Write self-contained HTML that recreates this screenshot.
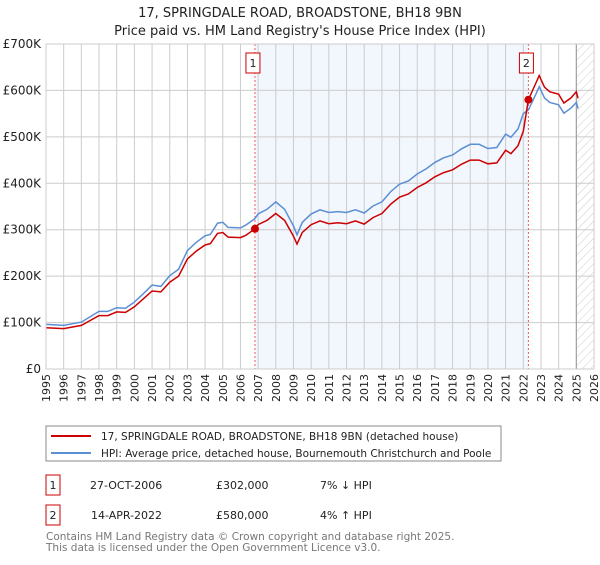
<!DOCTYPE html>
<html><head><meta charset="utf-8"><style>
body{margin:0;background:#fff;font-family:"Liberation Sans","DejaVu Sans",sans-serif;}
svg text{font-family:"DejaVu Sans","Liberation Sans",sans-serif;}
</style></head><body>
<svg id="c" width="600" height="560" xmlns="http://www.w3.org/2000/svg">
<defs><pattern id="hatch" width="6" height="6" patternUnits="userSpaceOnUse" patternTransform="rotate(45)"><line x1="0" y1="0" x2="0" y2="6" stroke="#ccc" stroke-width="1"/></pattern></defs>
<text x="300" y="17" text-anchor="middle" font-size="13" fill="#222">17, SPRINGDALE ROAD, BROADSTONE, BH18 9BN</text>
<text x="300" y="35" text-anchor="middle" font-size="13" fill="#222">Price paid vs. HM Land Registry's House Price Index (HPI)</text>
<g id="plot"></g>
<g>
<rect x="46" y="426" width="455" height="35" fill="#fff" stroke="#888"/>
<line x1="51" y1="436" x2="91" y2="436" stroke="#cc0000" stroke-width="2"/>
<text x="101" y="440" font-size="10.5" fill="#222">17, SPRINGDALE ROAD, BROADSTONE, BH18 9BN (detached house)</text>
<line x1="51" y1="453" x2="91" y2="453" stroke="#5b8fd4" stroke-width="2"/>
<text x="101" y="457" font-size="10.5" fill="#222">HPI: Average price, detached house, Bournemouth Christchurch and Poole</text>
</g>
<g font-size="11" fill="#222">
<rect x="46" y="475" width="14" height="20" fill="#fff" stroke="#cc0000"/>
<text x="53" y="489" text-anchor="middle">1</text>
<text x="90" y="489">27-OCT-2006</text><text x="216" y="489">£302,000</text><text x="320" y="489">7% ↓ HPI</text>
<rect x="46" y="505" width="14" height="20" fill="#fff" stroke="#cc0000"/>
<text x="53" y="519" text-anchor="middle">2</text>
<text x="91" y="519">14-APR-2022</text><text x="216" y="519">£580,000</text><text x="320" y="519">4% ↑ HPI</text>
</g>
<text x="46" y="540" font-size="10.5" fill="#777">Contains HM Land Registry data © Crown copyright and database right 2025.</text>
<text x="46" y="551" font-size="10.5" fill="#777">This data is licensed under the Open Government Licence v3.0.</text>
</svg>
<script>
const hpiYears=[1995,1996,1997,1998,1998.5,1999,1999.5,2000,2000.5,2001,2001.5,2002,2002.5,2003,2003.5,2004,2004.3,2004.7,2005,2005.3,2006,2006.3,2006.82,2007,2007.5,2008,2008.5,2009,2009.2,2009.5,2010,2010.5,2011,2011.5,2012,2012.5,2013,2013.5,2014,2014.5,2015,2015.5,2016,2016.5,2017,2017.5,2018,2018.5,2019,2019.5,2020,2020.5,2021,2021.3,2021.7,2022,2022.29,2022.7,2022.9,2023.2,2023.5,2024,2024.3,2024.7,2025,2025.1];
const hpiValues=[96,94,101,124,124,132,131,144,162,181,178,201,215,255,273,287,290,314,316,305,304,310,324,334,344,360,344,308,289,316,334,343,337,339,337,343,336,351,360,382,398,405,420,431,445,455,461,474,484,484,475,477,506,499,517,550,558,591,608,584,574,569,551,562,574,561];
const priceYears=hpiYears;
const priceValues=[89,87,94,115,115,123,122,134,151,168,166,187,200,237,254,267,270,292,294,284,283,288,302,311,320,335,320,286,269,294,311,319,313,315,313,319,312,326,335,355,370,377,391,401,414,423,429,441,450,450,442,444,471,464,481,512,580,615,632,607,597,592,573,584,597,583];
const saleYears=[2006.82,2022.29];
const saleValues=[302,580];
const saleLabels=["1","2"];
const yTicks=[0,100,200,300,400,500,600,700];
const yTickLabels=["£0","£100K","£200K","£300K","£400K","£500K","£600K","£700K"];
const xTicks=[1995,1996,1997,1998,1999,2000,2001,2002,2003,2004,2005,2006,2007,2008,2009,2010,2011,2012,2013,2014,2015,2016,2017,2018,2019,2020,2021,2022,2023,2024,2025,2026];
const forecastStart=2025.0;

const L=46,R=594,T=44,B=369;
const X=y=>L+(y-1995)/(2026-1995)*(R-L);
const Y=v=>B-v/700*(B-T);
const NS="http://www.w3.org/2000/svg";
const g=document.getElementById('plot');
function mk(tag,attrs){const e=document.createElementNS(NS,tag);for(const k in attrs)e.setAttribute(k,attrs[k]);g.appendChild(e);return e;}
let e;
e=mk('rect',{x:X(saleYears[0]),y:T,width:X(saleYears[1])-X(saleYears[0]),height:B-T,fill:'#eef3fc',opacity:0.75});


e=mk('rect',{x:X(forecastStart),y:T,width:R-X(forecastStart),height:B-T,fill:'url(#hatch)'});


xTicks.forEach(t=>{e=mk('line',{x1:X(t),x2:X(t),y1:T,y2:B,stroke:'#ccc','stroke-width':1});


const tx=mk('text',{x:0,y:0,'font-size':11,fill:'#222','text-anchor':'end',transform:`translate(${X(t)+4},${B+5}) rotate(-90)`});tx.textContent=t;

});
yTicks.forEach((t,i)=>{e=mk('line',{x1:L,x2:R,y1:Y(t),y2:Y(t),stroke:'#ccc','stroke-width':1});


const tx=mk('text',{x:L-5,y:Y(t)+4,'font-size':12,fill:'#222','text-anchor':'end'});tx.textContent=yTickLabels[i];

});
e=mk('line',{x1:X(forecastStart),x2:X(forecastStart),y1:T,y2:B,stroke:'#999','stroke-width':1});


saleYears.forEach((s,i)=>{e=mk('line',{x1:X(s),x2:X(s),y1:T,y2:B,stroke:'#e86060','stroke-width':1,'stroke-dasharray':'2,2'});

});
const pts=(xs,vs)=>xs.map((x,i)=>X(x).toFixed(1)+','+Y(vs[i]).toFixed(1)).join(' ');
e=mk('polyline',{points:pts(hpiYears,hpiValues),fill:'none',stroke:'#5b8fd4','stroke-width':1.5});


e=mk('polyline',{points:pts(priceYears,priceValues),fill:'none',stroke:'#cc0000','stroke-width':1.5});


saleYears.forEach((s,i)=>{e=mk('circle',{cx:X(s),cy:Y(saleValues[i]),r:4,fill:'#cc0000'});


e=mk('rect',{x:X(s)-9,y:53,width:14,height:20,fill:'#fff',stroke:'#cc0000'});


const tx=mk('text',{x:X(s)-2,y:67,'font-size':11,fill:'#222','text-anchor':'middle'});tx.textContent=saleLabels[i];

});
e=mk('rect',{x:L,y:T,width:R-L,height:B-T,fill:'none',stroke:'#ccc'});


</script>
</body></html>
